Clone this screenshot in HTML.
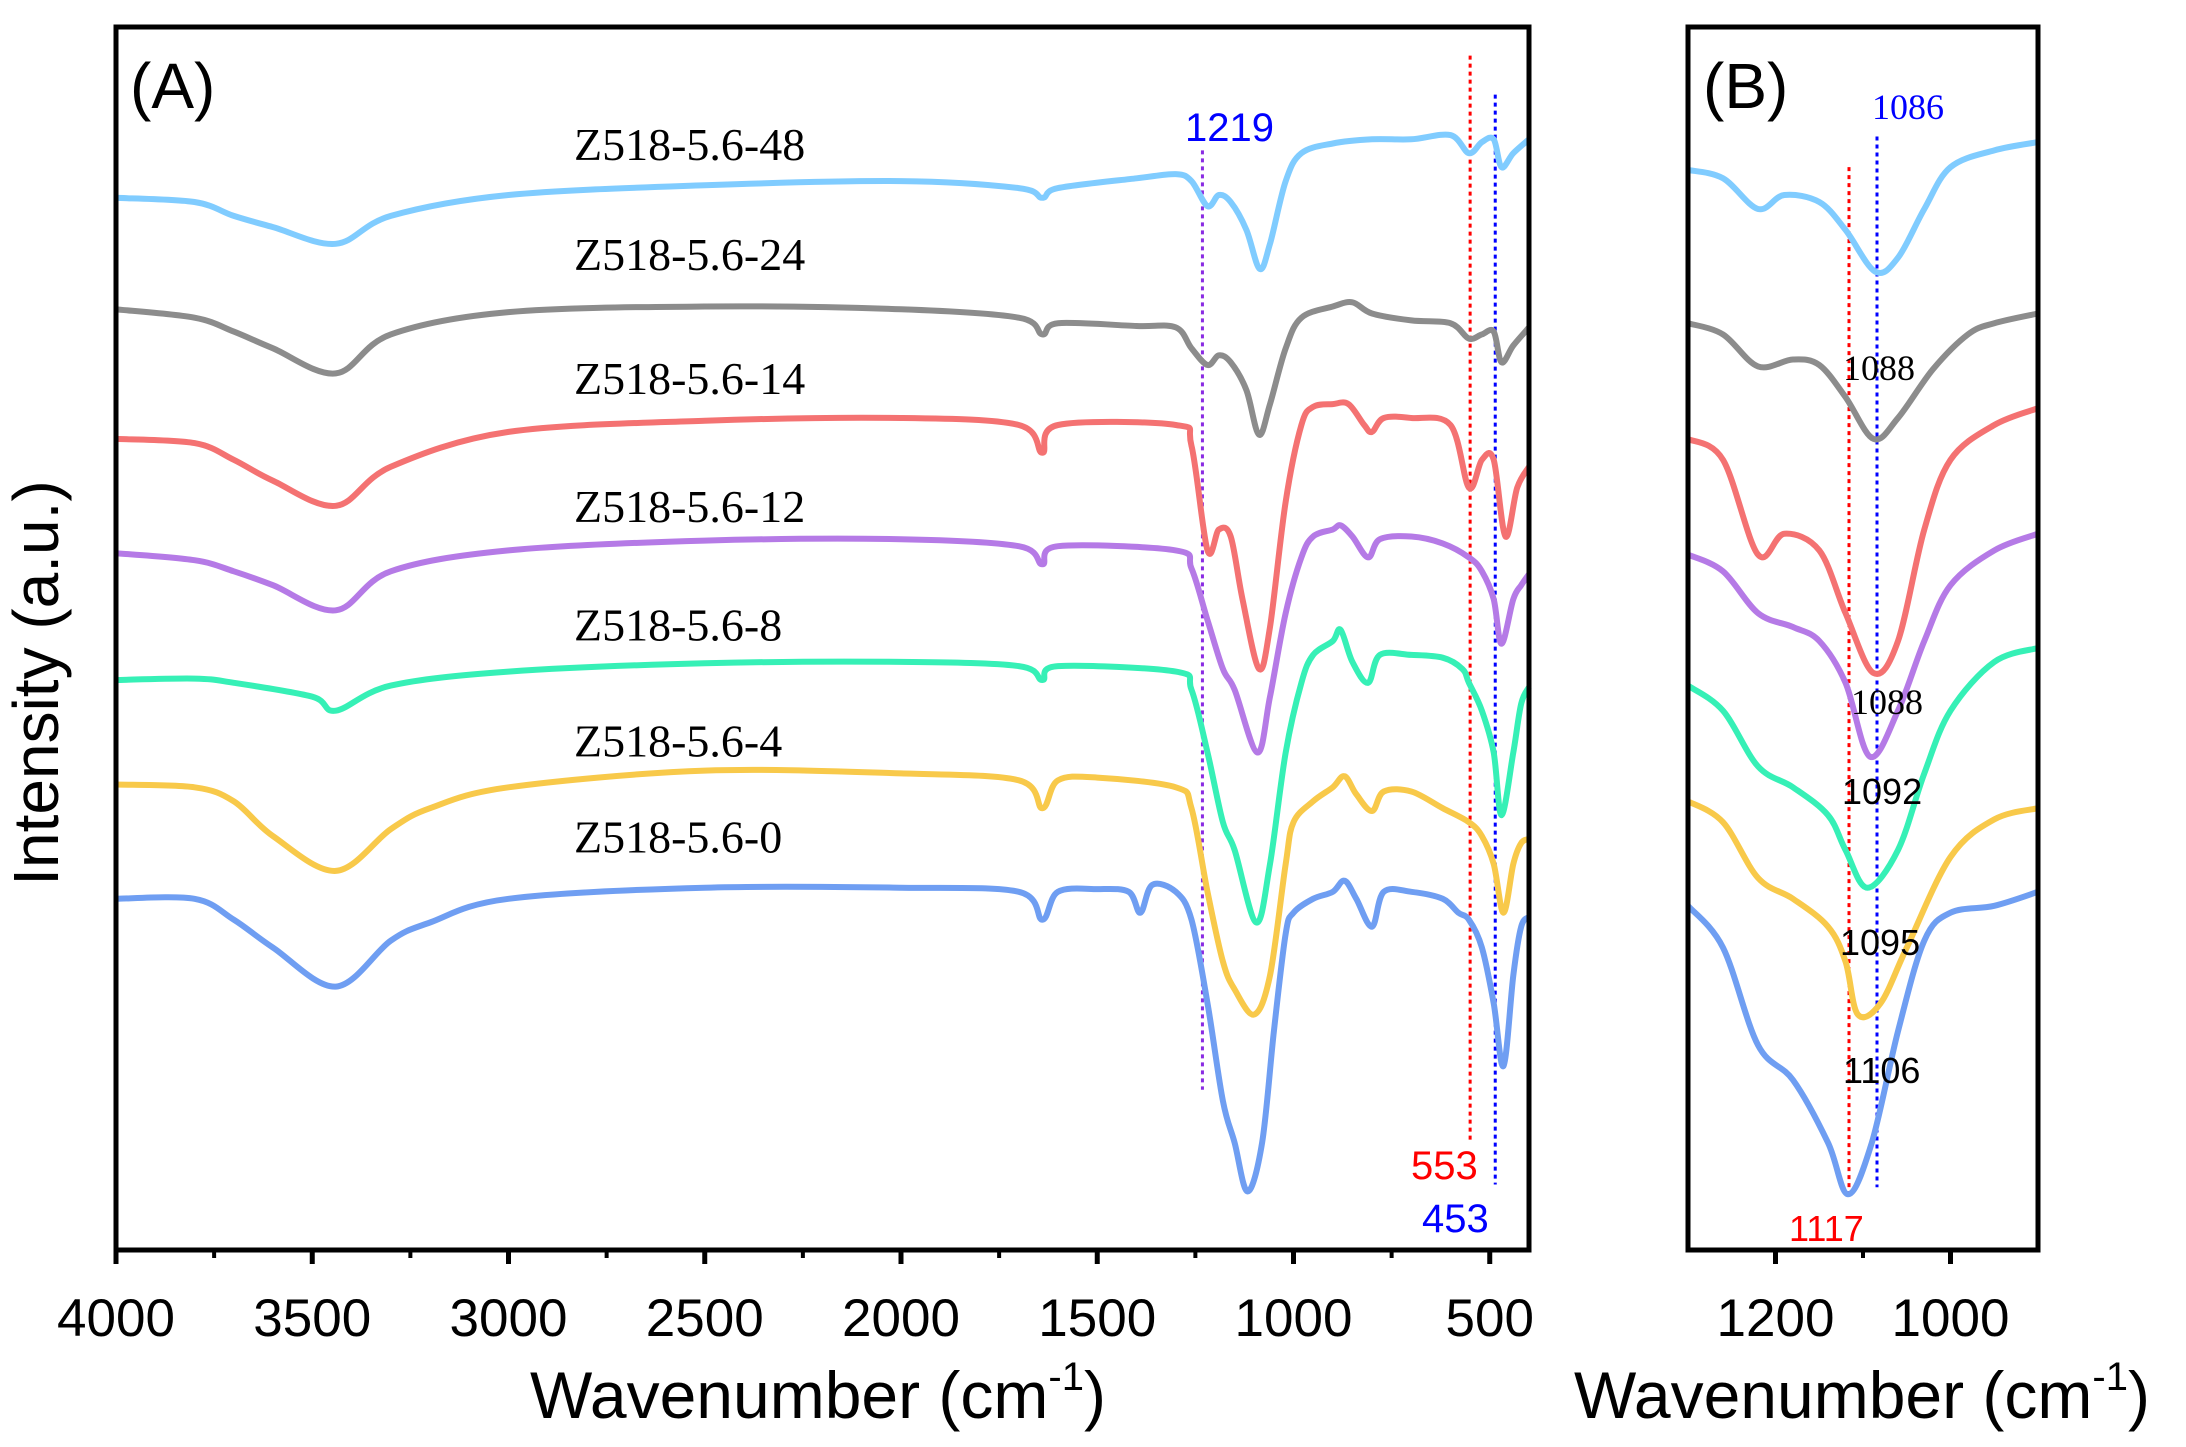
<!DOCTYPE html>
<html><head><meta charset="utf-8"><style>
html,body{margin:0;padding:0;background:#fff;}
svg{display:block;}
</style></head><body>
<svg id="chart" xmlns="http://www.w3.org/2000/svg" width="2186" height="1447" viewBox="0 0 2186 1447" font-family="Liberation Sans, Arial, sans-serif">
<rect width="2186" height="1447" fill="#fff"/>
<g id="plotA"></g>
<g id="plotB"></g>
<rect x="116" y="27" width="1413" height="1223" fill="none" stroke="#000" stroke-width="5"/>
<rect x="1688" y="27" width="350" height="1223" fill="none" stroke="#000" stroke-width="5"/>
<g id="ticks"></g>
<text x="130" y="108" font-size="64">(A)</text>
<text x="1703" y="108" font-size="64">(B)</text>
<text transform="translate(58,683) rotate(-90)" text-anchor="middle" font-size="64">Intensity (a.u.)</text>
<text x="818" y="1418" text-anchor="middle" font-size="66">Wavenumber (cm<tspan dy="-28" font-size="40">-1</tspan><tspan dy="28">)</tspan></text>
<text x="1862" y="1418" text-anchor="middle" font-size="66">Wavenumber (cm<tspan dy="-28" font-size="40">-1</tspan><tspan dy="28">)</tspan></text>
</svg>
<script>
const seriesNames = ["Z518-5.6-48","Z518-5.6-24","Z518-5.6-14","Z518-5.6-12","Z518-5.6-8","Z518-5.6-4","Z518-5.6-0"];
const seriesColors = ["#80ccff","#8c8c8c","#f47272","#b57ae6","#36f0b6","#f8c94a","#6f9ef2"];
const labelY = [104,183,272,364,449,532,601];
const wnA48 = [4000,3800,3700,3600,3440,3300,3000,2500,2000,1700,1640,1600,1400,1300,1260,1219,1190,1160,1120,1086,1060,1020,980,900,800,700,600,553,520,490,470,440,400];
const valA48 = [142,145,155,163,175,155,140,133,130,135,142,135,128,125,130,148,140,145,165,193,175,130,110,103,100,100,97,110,102,100,120,110,100];
const wnA24 = [4000,3800,3700,3600,3440,3300,3000,2500,2000,1700,1640,1600,1400,1300,1260,1219,1190,1160,1120,1088,1060,1020,980,900,850,800,700,600,553,520,490,470,440,400];
const valA24 = [222,228,238,250,268,240,224,220,222,228,240,232,234,235,250,262,255,260,280,312,290,250,228,220,217,225,230,232,243,240,238,260,248,235];
const wnA14 = [4000,3800,3700,3600,3440,3300,3000,2500,2000,1700,1640,1600,1300,1260,1219,1190,1160,1130,1088,1060,1020,980,950,900,860,820,800,770,700,600,553,520,490,460,430,400];
const valA14 = [315,318,330,345,363,335,310,302,300,305,325,305,305,320,395,380,385,430,480,450,360,305,292,290,290,305,310,300,300,305,350,330,330,385,350,335];
const wnA12 = [4000,3800,3700,3600,3440,3300,3000,2500,2000,1700,1640,1600,1300,1260,1219,1180,1150,1092,1060,1020,980,950,900,880,850,810,780,700,620,553,520,490,470,440,420,400];
const valA12 = [397,402,410,420,438,410,395,388,387,392,405,392,395,408,445,480,495,540,500,440,400,385,380,377,385,400,387,385,390,400,410,430,462,430,420,412];
const wnA8 = [4000,3800,3700,3500,3440,3300,3000,2500,2000,1700,1640,1600,1300,1260,1219,1180,1150,1095,1060,1020,980,950,900,880,850,810,780,700,620,570,553,520,490,470,440,420,400];
const valA8 = [488,487,490,500,510,492,482,476,475,478,488,478,482,495,540,590,610,662,620,540,490,470,460,452,475,490,470,470,472,480,490,510,540,585,540,505,493];
const wnA4 = [4000,3800,3700,3600,3440,3300,3200,3000,2500,2000,1700,1640,1600,1500,1300,1260,1219,1180,1150,1100,1060,1020,1000,950,900,870,840,800,770,700,620,553,520,490,465,440,420,400];
const valA4 = [563,565,575,600,625,595,580,565,553,555,560,580,560,558,565,580,640,690,710,728,700,620,590,575,565,557,570,582,568,568,580,590,600,620,655,620,605,602];
const wnA0 = [4000,3800,3700,3600,3440,3300,3200,3000,2500,2000,1700,1640,1600,1500,1420,1390,1360,1300,1260,1219,1180,1150,1117,1080,1050,1020,1000,950,900,870,840,800,770,700,620,580,553,520,490,465,440,420,400];
const valA0 = [645,645,660,680,708,675,662,645,637,637,640,660,640,638,640,655,635,640,660,720,790,820,855,820,740,670,655,645,640,632,645,665,640,640,645,655,660,680,720,765,700,665,658];
const wnB48 = [1300,1260,1220,1190,1150,1120,1086,1060,1030,1000,950,900];
const valB48 = [122,128,150,140,145,165,195,185,150,120,108,102];
const wnB24 = [1300,1260,1220,1180,1150,1120,1088,1060,1020,980,950,900];
const valB24 = [232,240,263,258,262,285,315,300,265,240,232,225];
const wnB14 = [1300,1260,1220,1190,1150,1120,1088,1060,1030,1000,950,900];
const valB14 = [315,330,398,383,395,440,483,460,380,330,305,293];
const wnB12 = [1300,1260,1220,1180,1150,1120,1092,1060,1030,1000,950,900];
const valB12 = [398,410,440,450,460,490,543,510,460,420,395,383];
const wnB8 = [1300,1260,1220,1180,1140,1120,1095,1060,1030,1000,950,900];
const valB8 = [492,510,550,565,585,610,637,610,555,510,475,465];
const wnB4 = [1300,1260,1220,1180,1140,1120,1106,1080,1050,1000,950,900];
const valB4 = [575,590,630,645,665,690,728,720,680,615,588,580];
const wnB0 = [1300,1260,1220,1180,1140,1117,1090,1060,1030,1000,950,900];
const valB0 = [650,680,750,775,820,857,820,740,675,655,650,640];
const ticksA = [4000,3500,3000,2500,2000,1500,1000,500];
const ticksB = [1200,1000];

const NS="http://www.w3.org/2000/svg";
const xA = w => 116 + (4000 - w) * (1413/3600);
const xB = w => 1688 + (1300 - w) * (350/400);
const yS = v => 25 + (v - 18) * (1225/879);
function mk(tag, attrs, parent){const e=document.createElementNS(NS,tag);for(const k in attrs)e.setAttribute(k,attrs[k]);parent.appendChild(e);return e;}
function smooth(pts){let d="M"+pts[0][0].toFixed(1)+","+pts[0][1].toFixed(1);for(let i=0;i<pts.length-1;i++){const p0=pts[Math.max(0,i-1)],p1=pts[i],p2=pts[i+1],p3=pts[Math.min(pts.length-1,i+2)];const c1x=p1[0]+(p2[0]-p0[0])/6,c1y=p1[1]+(p2[1]-p0[1])/6,c2x=p2[0]-(p3[0]-p1[0])/6,c2y=p2[1]-(p3[1]-p1[1])/6;d+=" C"+c1x.toFixed(1)+","+c1y.toFixed(1)+" "+c2x.toFixed(1)+","+c2y.toFixed(1)+" "+p2[0].toFixed(1)+","+p2[1].toFixed(1);}return d;}
const A=document.getElementById("plotA"), B=document.getElementById("plotB"), T=document.getElementById("ticks");
const dataA=[[wnA48,valA48],[wnA24,valA24],[wnA14,valA14],[wnA12,valA12],[wnA8,valA8],[wnA4,valA4],[wnA0,valA0]];
const dataB=[[wnB48,valB48],[wnB24,valB24],[wnB14,valB14],[wnB12,valB12],[wnB8,valB8],[wnB4,valB4],[wnB0,valB0]];
function vline(par,x,y1,y2,col,name){const l=mk("line",{x1:x,x2:x,y1:y1,y2:y2,stroke:col,"stroke-width":3,"stroke-dasharray":"4,4"},par);

}
vline(A,xA(1232),yS(108),yS(782),"#8a2be2","ref-line-1219");
vline(A,xA(550),yS(40),yS(818),"#ff0000","ref-line-553");
vline(A,xA(486),yS(68),yS(850),"#0000ff","ref-line-453");
vline(B,xB(1116),yS(120),yS(860),"#ff0000","ref-line-1117");
vline(B,xB(1084),yS(98),yS(852),"#0000ff","ref-line-1086");
dataA.forEach((s,i)=>{const p=mk("path",{d:smooth(s[0].map((w,j)=>[xA(w),yS(s[1][j])])),fill:"none",stroke:seriesColors[i],"stroke-width":6,"stroke-linejoin":"round"},A);


const t=mk("text",{x:574,y:yS(labelY[i])+15,"font-size":46,"font-family":"Liberation Serif, serif"},A);t.textContent=seriesNames[i];

});
dataB.forEach((s,i)=>{const p=mk("path",{d:smooth(s[0].map((w,j)=>[xB(w),yS(s[1][j])])),fill:"none",stroke:seriesColors[i],"stroke-width":6,"stroke-linejoin":"round"},B);

});
function lab(par,txt,x,y,col,size,fam,name){const t=mk("text",{x:x,y:y,fill:col,"font-size":size,"font-family":fam},par);t.textContent=txt;

}
const SANS="Liberation Sans, sans-serif", SER="Liberation Serif, serif";
lab(A,"1219",1185,141,"#0000ff",40,SANS,"peak-label-1219");
lab(A,"553",1411,1179,"#ff0000",40,SANS,"peak-label-553");
lab(A,"453",1422,1232,"#0000ff",40,SANS,"peak-label-453");
lab(B,"1086",1872,119,"#0000ff",36,SER,"peak-label-1086");
lab(B,"1117",1789,1241,"#ff0000",36,SANS,"peak-label-1117");
lab(B,"1088",1843,380,"#000",36,SER,"peak-label-1088-a");
lab(B,"1088",1851,714,"#000",36,SER,"peak-label-1088-b");
lab(B,"1092",1842,804,"#000",36,SANS,"peak-label-1092");
lab(B,"1095",1840,955,"#000",36,SANS,"peak-label-1095");
lab(B,"1106",1843,1083,"#000",36,SANS,"peak-label-1106");
ticksA.forEach(v=>{const x=xA(v);const l=mk("line",{x1:x,x2:x,y1:1250,y2:1264,stroke:"#000","stroke-width":5},T);


const t=mk("text",{x:x,y:1336,"text-anchor":"middle","font-size":53},T);t.textContent=v;

});
for(let v=3750;v>400;v-=500){const x=xA(v);const l=mk("line",{x1:x,x2:x,y1:1250,y2:1258,stroke:"#000","stroke-width":4},T);

}
ticksB.forEach(v=>{const x=xB(v);const l=mk("line",{x1:x,x2:x,y1:1250,y2:1264,stroke:"#000","stroke-width":5},T);


const t=mk("text",{x:x,y:1336,"text-anchor":"middle","font-size":53},T);t.textContent=v;

});
[1100].forEach(v=>{const x=xB(v);const l=mk("line",{x1:x,x2:x,y1:1250,y2:1258,stroke:"#000","stroke-width":4},T);

});
</script>
</body></html>
